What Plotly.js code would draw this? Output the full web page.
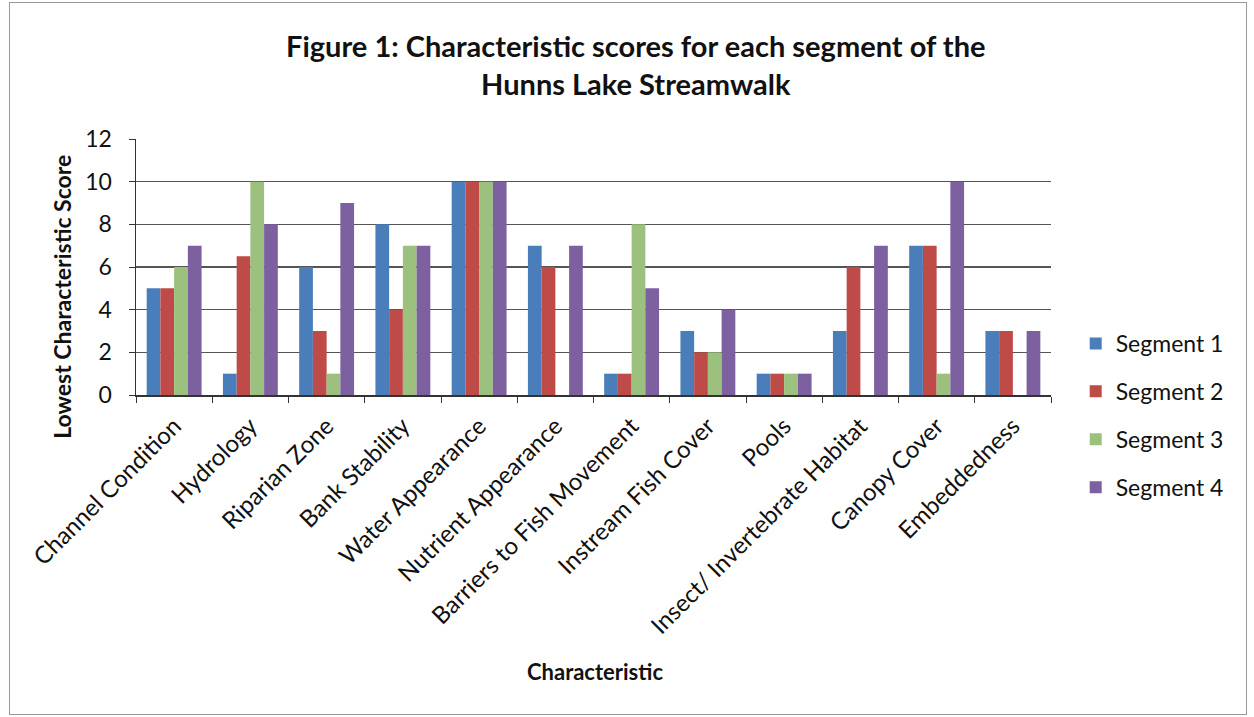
<!DOCTYPE html>
<html><head><meta charset="utf-8">
<script src="https://cdn.plot.ly/plotly-3.0.1.min.js"></script>
<style>
html,body{margin:0;padding:0;background:#fff;}
#wrap{position:relative;width:1254px;height:717px;}
#frame{position:absolute;left:9px;top:2px;width:1238px;height:713px;border:1px solid #999;box-sizing:border-box;pointer-events:none;}
#chart{position:absolute;left:0;top:0;width:1254px;height:717px;}
</style></head>
<body><div id="wrap"><div id="chart"></div><div id="frame"></div></div>
<script>
const categories = ["Channel Condition","Hydrology","Riparian Zone","Bank Stability","Water Appearance","Nutrient Appearance","Barriers to Fish Movement","Instream Fish Cover","Pools","Insect/ Invertebrate Habitat","Canopy Cover","Embeddedness"];
const segment1 = [5,1,6,8,10,7,1,3,1,3,7,3];
const segment2 = [5,6.5,3,4,10,6,1,2,1,6,7,3];
const segment3 = [6,10,1,7,10,0,8,2,1,0,1,0];
const segment4 = [7,8,9,7,10,7,5,4,1,7,10,3];
const seriesNames = ["Segment 1","Segment 2","Segment 3","Segment 4"];
const colors = ["#4a7ebb","#be4b48","#9cc17e","#7d60a0"];
const yTicks = [0,2,4,6,8,10,12];

const font = "Lato, 'Open Sans', sans-serif";
const data = [segment1,segment2,segment3,segment4].map((v,i)=>({
  type:"bar", x:categories, y:v, name:seriesNames[i], legendgroup:"g"+i,
  marker:{color:colors[i]}
}));
const layout = {
  width:1254, height:717,
  margin:{l:136,r:203,t:139,b:322},
  paper_bgcolor:"#fff", plot_bgcolor:"#fff",
  font:{family:font,color:"#000"},
  title:{text:"<b>Figure 1: Characteristic scores for each segment of the<br>Hunns Lake Streamwalk</b>",
    font:{size:29,family:font,color:"#111"}, x:0.507, xanchor:"center", y:0.92, yanchor:"middle"},
  bargap:0.28, bargroupgap:0,
  xaxis:{type:"category", tickangle:-45, tickfont:{size:24,family:font,color:"#111"},
    ticks:"outside", tickson:"boundaries", ticklen:6, tickcolor:"#333", ticklabelstandoff:6,
    showline:true, linecolor:"#333", linewidth:1.5},
  yaxis:{range:[0,12], tickvals:yTicks, tickfont:{size:23,family:font,color:"#111"},
    showgrid:true, gridcolor:"#555", gridwidth:1.6, ticklabelstandoff:12,
    ticks:"outside", ticklen:6, tickcolor:"#333",
    showline:true, linecolor:"#333", linewidth:1.5, zeroline:false},
  annotations:[
    {text:"<b>Lowest Characteristic Score</b>", xref:"paper", yref:"paper", x:-0.081, y:0.383,
     xanchor:"center", yanchor:"middle", textangle:-90, showarrow:false, font:{size:23,family:font,color:"#111"}},
    {text:"<b>Characteristic</b>", xref:"paper", yref:"paper", x:0.502, y:-1.08,
     xanchor:"center", yanchor:"middle", showarrow:false, font:{size:22,family:font,color:"#111"}}
  ],
  legend:{x:1.027, xanchor:"left", y:-0.08, yanchor:"middle", font:{size:23,family:font,color:"#111"},
    traceorder:"grouped", tracegroupgap:15, itemwidth:30},
  showlegend:true
};
Plotly.newPlot("chart", data, layout, {displayModeBar:false, staticPlot:true});
</script></body></html>
